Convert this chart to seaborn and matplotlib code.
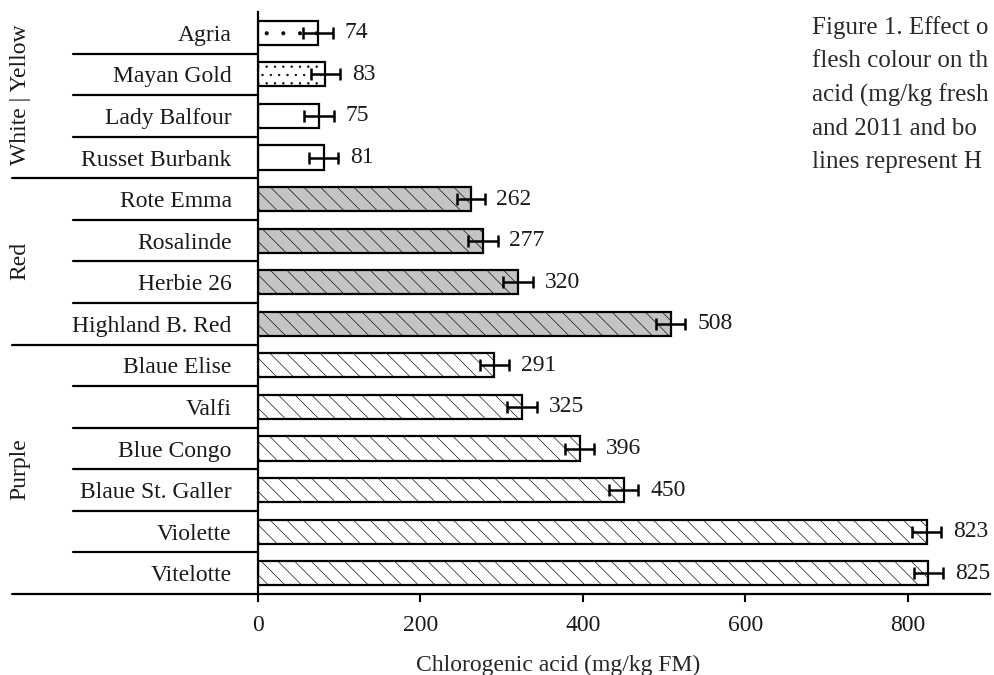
import numpy as np
import pandas as pd
import seaborn as sns
import matplotlib.pyplot as plt
import matplotlib.transforms as mtransforms

# data
cultivars = ['Agria', 'Mayan Gold', 'Lady Balfour', 'Russet Burbank',
             'Rote Emma', 'Rosalinde', 'Herbie 26', 'Highland B. Red',
             'Blaue Elise', 'Valfi', 'Blue Congo', 'Blaue St. Galler',
             'Violette', 'Vitelotte']
chlorogenic = [74, 83, 75, 81, 262, 277, 320, 508, 291, 325, 396, 450, 823, 825]
hsd_err = [18, 18, 18, 18, 17, 18, 18, 18, 18, 18, 18, 18, 18, 18]
flesh = ['Yellow', 'Yellow', 'White', 'White', 'Red', 'Red', 'Red', 'Red',
         'Purple', 'Purple', 'Purple', 'Purple', 'Purple', 'Purple']
group_labels = ['White | Yellow', 'Red', 'Purple']

fills = {'Yellow': 'white', 'White': 'white', 'Red': '#c4c4c4', 'Purple': 'white'}
hatches = ['.', '..', '', '', '\\\\', '\\\\', '\\\\', '\\\\', '\\\\', '\\\\',
           '\\\\', '\\\\', '\\\\', '\\\\']

df = pd.DataFrame({'cultivar': cultivars, 'value': chlorogenic, 'flesh': flesh})

FS = 17
sns.set_style('ticks')
plt.rcParams['font.family'] = ['Liberation Serif', 'DejaVu Serif']
plt.rcParams['font.size'] = FS
plt.rcParams['hatch.linewidth'] = 0.45
plt.rcParams['text.color'] = '#1a1a1a'

fig = plt.figure(figsize=(9.95, 6.75), dpi=100)
ax = fig.add_axes([258 / 995, 81 / 675, 732 / 995, 582 / 675])

sns.barplot(data=df, y='cultivar', x='value', orient='h', width=0.58,
            color='white', edgecolor='black', linewidth=1.6, ax=ax)
for patch, fl, h in zip(ax.patches, flesh, hatches):
    patch.set_facecolor(fills[fl])
    patch.set_edgecolor('black')
    patch.set_hatch(h)

pos = np.arange(len(cultivars))
ax.errorbar(chlorogenic, pos, xerr=hsd_err, fmt='none', ecolor='black',
            elinewidth=1.8, capsize=4.3, capthick=1.8)
for p, v, e in zip(pos, chlorogenic, hsd_err):
    ax.annotate(str(v), (v + e, p), xytext=(8.5, 0), textcoords='offset points',
                va='center', ha='left', fontsize=FS)

ax.set_xlim(0, 901)
ax.set_ylim(13.5, -0.5)
ax.set_xticks([0, 200, 400, 600, 800])
ax.tick_params(axis='x', length=6, width=1.5, pad=9, labelsize=FS, colors='black',
               labelcolor='#1a1a1a')
ax.tick_params(axis='y', length=0, pad=19, labelsize=FS, labelcolor='#1a1a1a')
ax.set_ylabel('')
ax.set_xlabel('Chlorogenic acid (mg/kg FM)', fontsize=FS)
ax.xaxis.set_label_coords(0.41, -0.104)
sns.despine(ax=ax)
for s in ['left', 'bottom']:
    ax.spines[s].set_linewidth(1.6)
    ax.spines[s].set_color('black')

# row and group separator lines on the label side
trans = mtransforms.blended_transform_factory(ax.transAxes, ax.transData)
group_ends = [3.5, 7.5, 13.5]
for b in np.arange(0.5, 14.0, 1.0):
    x0 = -0.336 if b in group_ends else -0.253
    ax.plot([x0, 0], [b, b], color='black', lw=1.6, transform=trans, clip_on=False)

# flesh colour group labels
centers = [1.5, 5.5, 10.5]
for g, c in zip(group_labels, centers):
    ax.text(-0.325, c, g, rotation=90, ha='center', va='center',
            fontsize=FS, transform=trans)

# caption fragment as visible at the picture's right edge
caption = ('Figure 1. Effect o\nflesh colour on th\nacid (mg/kg fresh\n'
           'and 2011 and bo\nlines represent H')
fig.text(812 / 995, 1 - 16 / 675, caption, ha='left', va='top',
         fontsize=18, linespacing=1.64, color='#2a2a2a')

fig.savefig('out.png', dpi=100)
